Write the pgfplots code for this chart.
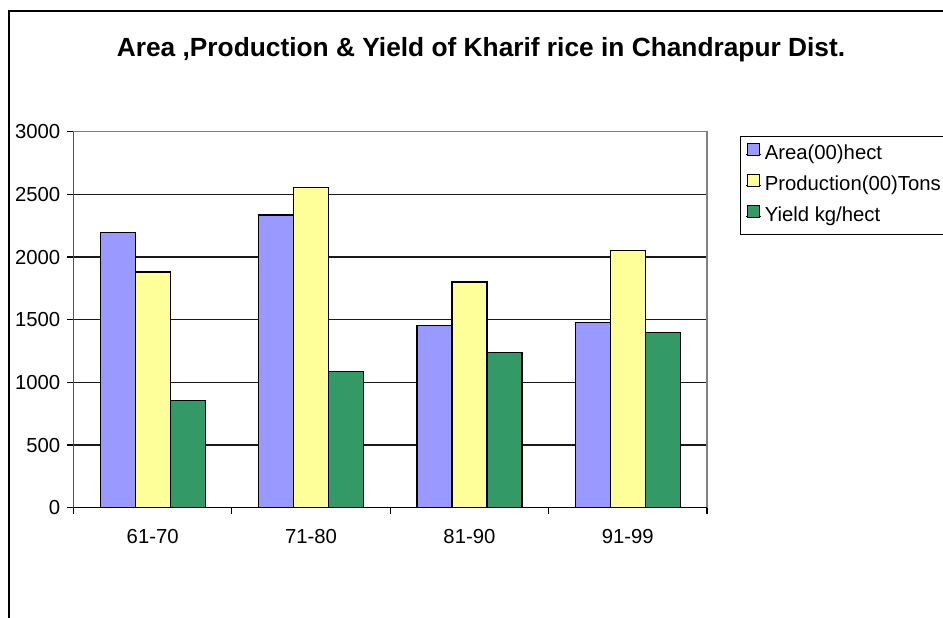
\documentclass[border=0pt]{standalone}
\usepackage{pgfplots}
\pgfplotsset{compat=1.18}
\usepackage{fontspec}
\setmainfont{Liberation Sans}
\definecolor{cArea}{HTML}{9999FF}
\definecolor{cProd}{HTML}{FFFF99}
\definecolor{cYield}{HTML}{339966}
\begin{document}
\begin{tikzpicture}[x=1pt,y=1pt]
\useasboundingbox (0,0) rectangle (943,618);
\clip (0,0) rectangle (943,618);
\draw[line width=1.6pt] (9,-10) -- (9,607) -- (960,607);
\node[anchor=base, font=\bfseries\fontsize{26.3}{30}\selectfont] at (481,561.3) {Area ,Production \& Yield of Kharif rice in Chandrapur Dist.};
\begin{axis}[
  at={(73.5pt,110.3pt)}, anchor=south west,
  scale only axis, width=633.5pt, height=376pt,
  ybar=0pt, bar width=35pt,
  xmin=-0.5, xmax=3.5, ymin=0, ymax=3000,
  enlargelimits=false,
  ytick={0,500,...,3000},
  xtick={-0.5,0.5,1.5,2.5,3.5}, xticklabels={},
  extra x ticks={0,1,2,3},
  extra x tick labels={61-70,71-80,81-90,91-99},
  extra x tick style={major tick length=0pt, xticklabel style={yshift=-18pt}},
  xtick pos=bottom, ytick pos=left,
  tick align=outside, major tick length=6pt,
  tick style={black, line width=1.1pt},
  ymajorgrids, grid style={black!90, line width=1.2pt},
  axis line style={gray, line width=1.1pt},
  /pgf/number format/assume math mode=true,
  /pgf/number format/1000 sep={},
  ticklabel style={font=\fontsize{20.3}{24}\selectfont},
  yticklabel style={xshift=-3.8pt},
  legend cell align=left,
  legend style={at={(rel axis cs:1.0521,0.9886)}, anchor=north west,
    draw=black, line width=1.1pt, inner sep=5pt, row sep=5pt,
    font=\fontsize{20.3}{24}\selectfont,
    nodes={inner sep=3pt, text height=15pt, text depth=5pt}},
  legend image code/.code={\path (0pt,0pt) -- (15pt,0pt); \draw[#1, draw=black, line width=1pt] (1pt,-0.7pt) rectangle (13pt,11.3pt);},
]
\addplot[fill=cArea, draw=black, line width=1.2pt] coordinates {(0,2195) (1,2335) (2,1455) (3,1480)};
\addplot[fill=cProd, draw=black, line width=1.2pt] coordinates {(0,1880) (1,2553) (2,1800) (3,2055)};
\addplot[fill=cYield, draw=black, line width=1.2pt] coordinates {(0,855) (1,1085) (2,1237) (3,1395)};
\legend{Area(00)hect, Production(00)Tons, Yield kg/hect}
\draw[black, line width=1.3pt] (rel axis cs:0,0) -- (rel axis cs:0,1);
\draw[black, line width=1.3pt] (rel axis cs:0,0) -- (rel axis cs:1,0);
\end{axis}
\end{tikzpicture}
\end{document}
